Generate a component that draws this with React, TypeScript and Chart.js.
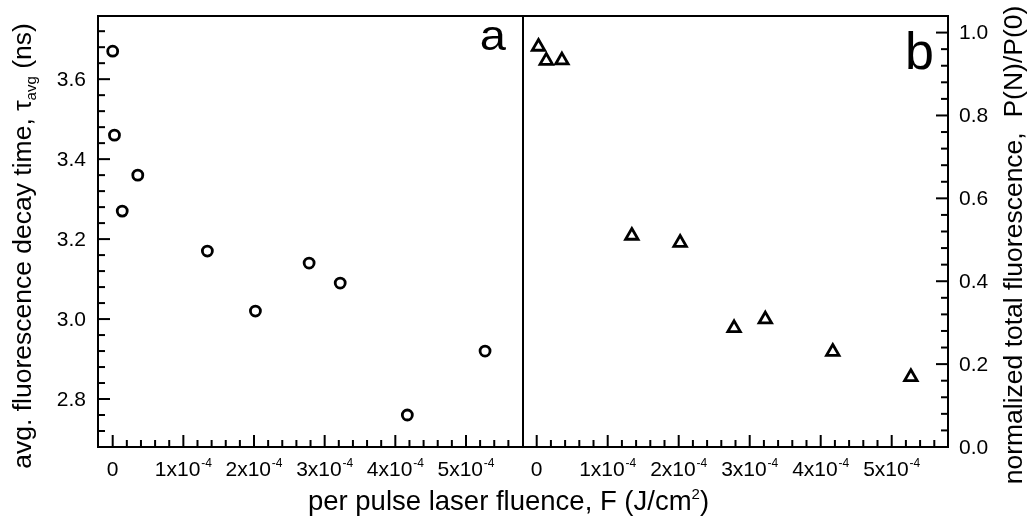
import { useEffect, useRef } from 'react';
import { Chart, registerables } from 'chart.js';

Chart.register(...registerables);

// Per pulse laser fluence F (J/cm²) of each measurement
const fluence = [0, 0.025e-4, 0.135e-4, 0.355e-4, 1.34e-4, 2.02e-4, 2.78e-4, 3.22e-4, 4.17e-4, 5.27e-4];
// Panel a: average fluorescence decay time τavg (ns)
const decayTime = [3.67, 3.46, 3.27, 3.36, 3.17, 3.02, 3.14, 3.09, 2.76, 2.92];
// Panel b: normalized total fluorescence P(N)/P(0); no marker at F = 0
const totalFluorescence: (number | null)[] = [null, 0.966, 0.932, 0.933, 0.51, 0.493, 0.287, 0.308, 0.23, 0.169];

// Labelled (major) ticks; "^" starts a superscript
const fluenceTicks = [0, 1e-4, 2e-4, 3e-4, 4e-4, 5e-4];
const fluenceTickLabels = ['0', '1x10^-4', '2x10^-4', '3x10^-4', '4x10^-4', '5x10^-4'];
const decayTicks = [2.8, 3.0, 3.2, 3.4, 3.6];
const decayTickLabels = ['2.8', '3.0', '3.2', '3.4', '3.6'];
const fluorTicks = [0, 0.2, 0.4, 0.6, 0.8, 1.0];
const fluorTickLabels = ['0.0', '0.2', '0.4', '0.6', '0.8', '1.0'];

// Unlabelled minor tick spacing
const fluenceMinorStep = 0.2e-4;
const decayMinorStep = 0.04;
const fluorMinorStep = 0.04;

const FONT = '"Liberation Sans", Arial, Helvetica, sans-serif';
const TICK_FONT = 21;
const SUP_FONT = 12;
const TITLE_FONT = 26.5;
const X_TITLE_FONT = 27.5;
const MAJOR_LEN = 12;
const MINOR_LEN = 7;

function stepValues(min: number, max: number, step: number) {
  const out: number[] = [];
  const k0 = Math.ceil(min / step - 1e-9);
  const k1 = Math.floor(max / step + 1e-9);
  for (let k = k0; k <= k1; k++) out.push(k * step);
  return out;
}

function isMajor(v: number, majors: number[]) {
  const tol = Math.abs(majors[majors.length - 1] - majors[0]) * 1e-6;
  return majors.some((m) => Math.abs(m - v) < tol);
}

// Text made of [text, size, baselineShift] pieces
function pieceWidth(ctx: CanvasRenderingContext2D, pieces: [string, number, number][]) {
  let w = 0;
  for (const [t, size] of pieces) {
    ctx.font = `${size}px ${FONT}`;
    w += ctx.measureText(t).width;
  }
  return w;
}

function drawPieces(ctx: CanvasRenderingContext2D, pieces: [string, number, number][], x: number, y: number) {
  ctx.textAlign = 'left';
  ctx.textBaseline = 'alphabetic';
  for (const [t, size, shift] of pieces) {
    ctx.font = `${size}px ${FONT}`;
    ctx.fillText(t, x, y + shift);
    x += ctx.measureText(t).width;
  }
}

function labelPieces(label: string): [string, number, number][] {
  const [base, sup] = label.split('^');
  const pieces: [string, number, number][] = [[base, TICK_FONT, 0]];
  if (sup) pieces.push([' ', 3, 0], [sup, SUP_FONT, -9]);
  return pieces;
}

const panelPlugin = {
  id: 'panelFrames',
  beforeDatasetsDraw(chart: any) {
    const ctx: CanvasRenderingContext2D = chart.ctx;
    const { xa, xb, ya, yb } = chart.scales;
    const top = chart.chartArea.top;
    const bottom = chart.chartArea.bottom;

    ctx.save();
    ctx.strokeStyle = '#000';
    ctx.fillStyle = '#000';
    ctx.lineWidth = 2;

    // bottom ticks of both panels, pointing inward
    for (const sc of [xa, xb]) {
      for (const v of stepValues(sc.min, sc.max, fluenceMinorStep)) {
        const px = sc.getPixelForValue(v);
        if (px < sc.left + 3 || px > sc.right - 3) continue;
        const len = isMajor(v, fluenceTicks) ? MAJOR_LEN : MINOR_LEN;
        ctx.beginPath();
        ctx.moveTo(px, bottom);
        ctx.lineTo(px, bottom - len);
        ctx.stroke();
      }
    }
    // left axis of panel a
    for (const v of stepValues(ya.min, ya.max, decayMinorStep)) {
      const py = ya.getPixelForValue(v);
      if (py < top + 3 || py > bottom - 3) continue;
      const len = isMajor(v, decayTicks) ? MAJOR_LEN : MINOR_LEN;
      ctx.beginPath();
      ctx.moveTo(xa.left, py);
      ctx.lineTo(xa.left + len, py);
      ctx.stroke();
    }
    // right axis of panel b
    for (const v of stepValues(yb.min, yb.max, fluorMinorStep)) {
      const py = yb.getPixelForValue(v);
      if (py < top + 3 || py > bottom - 3) continue;
      const len = isMajor(v, fluorTicks) ? MAJOR_LEN : MINOR_LEN;
      ctx.beginPath();
      ctx.moveTo(xb.right, py);
      ctx.lineTo(xb.right - len, py);
      ctx.stroke();
    }

    // panel frames
    ctx.strokeRect(xa.left, top, xa.right - xa.left, bottom - top);
    ctx.strokeRect(xb.left, top, xb.right - xb.left, bottom - top);

    // x tick labels
    for (const sc of [xa, xb]) {
      fluenceTicks.forEach((v, i) => {
        const pieces = labelPieces(fluenceTickLabels[i]);
        const w = pieceWidth(ctx, pieces);
        drawPieces(ctx, pieces, sc.getPixelForValue(v) - w / 2, bottom + 29);
      });
    }
    // y tick labels
    ctx.font = `${TICK_FONT}px ${FONT}`;
    ctx.textBaseline = 'middle';
    ctx.textAlign = 'right';
    decayTicks.forEach((v, i) => ctx.fillText(decayTickLabels[i], xa.left - 12, ya.getPixelForValue(v) + 1));
    ctx.textAlign = 'left';
    fluorTicks.forEach((v, i) => ctx.fillText(fluorTickLabels[i], xb.right + 11, yb.getPixelForValue(v) + 1));

    // panel letters
    ctx.textBaseline = 'alphabetic';
    ctx.textAlign = 'right';
    ctx.save();
    ctx.translate(xa.right - 17, top + 33.5);
    ctx.scale(1.12, 1);
    ctx.font = `42px ${FONT}`;
    ctx.fillText('a', 0, 0);
    ctx.restore();
    ctx.font = `52px ${FONT}`;
    ctx.fillText('b', xb.right - 14, top + 53);

    // x axis title
    const xTitle: [string, number, number][] = [
      ['per pulse laser fluence, F (J/cm', X_TITLE_FONT, 0],
      ['2', 15, -11],
      [')', X_TITLE_FONT, 0],
    ];
    const xw = pieceWidth(ctx, xTitle);
    drawPieces(ctx, xTitle, 508.5 - xw / 2, 510);

    // left y title
    const yTitleA: [string, number, number][] = [
      ['avg. fluorescence decay time, \u03c4', TITLE_FONT, 0],
      ['avg', 15, 5],
      [' (ns)', TITLE_FONT, 0],
    ];
    ctx.save();
    ctx.translate(31, 246);
    ctx.rotate(-Math.PI / 2);
    drawPieces(ctx, yTitleA, -pieceWidth(ctx, yTitleA) / 2, 0);
    ctx.restore();

    // right y title
    const yTitleB: [string, number, number][] = [['normalized total fluorescence,  P(N)/P(0)', TITLE_FONT, 0]];
    ctx.save();
    ctx.translate(1022, 245);
    ctx.rotate(-Math.PI / 2);
    drawPieces(ctx, yTitleB, -pieceWidth(ctx, yTitleB) / 2, 0);
    ctx.restore();

    ctx.restore();
  },
};

export default function App() {
  const canvasRef = useRef<HTMLCanvasElement | null>(null);

  useEffect(() => {
    if (!canvasRef.current) return;
    const decayPoints = fluence.map((x, i) => ({ x, y: decayTime[i] }));
    const fluorPoints = fluence
      .map((x, i) => ({ x, y: totalFluorescence[i] }))
      .filter((p) => p.y !== null) as { x: number; y: number }[];

    const chart = new Chart(canvasRef.current, {
      type: 'scatter',
      data: {
        datasets: [
          {
            label: 'avg. fluorescence decay time',
            data: decayPoints,
            xAxisID: 'xa',
            yAxisID: 'ya',
            pointStyle: 'circle',
            pointRadius: 5,
            pointBorderWidth: 2.8,
            pointBorderColor: '#000',
            pointBackgroundColor: '#fff',
          },
          {
            label: 'normalized total fluorescence',
            data: fluorPoints,
            xAxisID: 'xb',
            yAxisID: 'yb',
            pointStyle: 'triangle',
            pointRadius: 7.2,
            pointBorderWidth: 2.8,
            pointBorderColor: '#000',
            pointBackgroundColor: '#fff',
          },
        ],
      },
      options: {
        responsive: false,
        animation: false,
        events: [],
        layout: { padding: { left: 98, right: 83, top: 16, bottom: 72 } },
        plugins: { legend: { display: false }, tooltip: { enabled: false } },
        scales: {
          xa: { type: 'linear', position: 'bottom', stack: 'panels', stackWeight: 1, min: -0.208e-4, max: 5.807e-4, display: false },
          xb: { type: 'linear', position: 'bottom', stack: 'panels', stackWeight: 1, min: -0.193e-4, max: 5.793e-4, display: false },
          ya: { type: 'linear', position: 'left', min: 2.68, max: 3.758, display: false },
          yb: { type: 'linear', position: 'right', min: 0, max: 1.04, display: false },
        },
      },
      plugins: [panelPlugin],
    });
    return () => chart.destroy();
  }, []);

  return (
    <div style={{ position: 'absolute', left: 0, top: 0, width: 1031, height: 519, background: '#fff' }}>
      <canvas ref={canvasRef} width={1031} height={519} style={{ display: 'block' }} />
    </div>
  );
}
